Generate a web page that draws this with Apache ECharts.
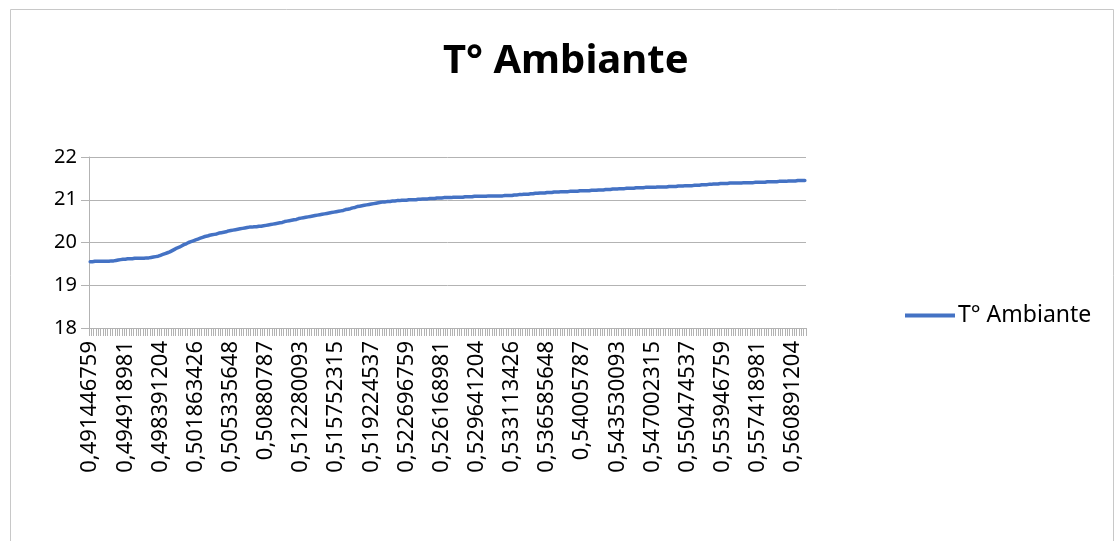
<!DOCTYPE html>
<html>
<head>
<meta charset="utf-8">
<script src="https://cdn.jsdelivr.net/npm/echarts@6/dist/echarts.min.js"></script>
<style>
  html, body { margin: 0; padding: 0; background: #fff; }
  #main { width: 1115px; height: 541px; }
</style>
</head>
<body>
<div id="main"></div>
<script>
var myChart = echarts.init(document.getElementById('main'));

var chartTitle = 'T° Ambiante';
var seriesName = 'T° Ambiante';

// time stamps: fraction of a day, one reading every 20 s from 11:47:41
var startSeconds = 42461;
var stepSeconds = 20;
var pointCount = 306;

var yTicks = [18, 19, 20, 21, 22];

// one row = 15 readings (5 minutes)
var tempValues = [
    19.55,19.55,19.56,19.56,19.56,19.56,19.56,19.56,19.56,19.57,19.57,19.58,19.59,19.60,19.61,
    19.61,19.62,19.62,19.62,19.63,19.63,19.63,19.63,19.63,19.64,19.64,19.65,19.66,19.67,19.68,
    19.70,19.72,19.74,19.76,19.78,19.81,19.84,19.87,19.89,19.92,19.95,19.97,20.00,20.02,20.04,
    20.06,20.08,20.10,20.12,20.14,20.15,20.17,20.18,20.19,20.20,20.22,20.23,20.24,20.25,20.27,
    20.28,20.29,20.30,20.31,20.32,20.33,20.34,20.35,20.36,20.36,20.37,20.37,20.38,20.38,20.39,
    20.40,20.41,20.42,20.43,20.44,20.45,20.46,20.47,20.49,20.50,20.51,20.52,20.53,20.54,20.56,
    20.57,20.58,20.59,20.60,20.61,20.62,20.63,20.64,20.65,20.66,20.67,20.68,20.69,20.70,20.71,
    20.72,20.73,20.74,20.75,20.77,20.78,20.79,20.81,20.82,20.84,20.85,20.86,20.87,20.88,20.89,
    20.90,20.91,20.92,20.93,20.94,20.95,20.95,20.96,20.96,20.97,20.97,20.98,20.98,20.99,20.99,
    20.99,21.00,21.00,21.00,21.00,21.01,21.01,21.02,21.02,21.02,21.03,21.03,21.03,21.04,21.04,
    21.04,21.05,21.05,21.05,21.05,21.06,21.06,21.06,21.06,21.06,21.07,21.07,21.07,21.07,21.08,
    21.08,21.08,21.08,21.08,21.08,21.09,21.09,21.09,21.09,21.09,21.09,21.09,21.10,21.10,21.10,
    21.10,21.11,21.11,21.12,21.12,21.13,21.13,21.13,21.14,21.14,21.15,21.15,21.16,21.16,21.16,
    21.17,21.17,21.17,21.18,21.18,21.18,21.19,21.19,21.19,21.19,21.20,21.20,21.20,21.20,21.21,
    21.21,21.21,21.21,21.21,21.22,21.22,21.22,21.23,21.23,21.23,21.24,21.24,21.24,21.25,21.25,
    21.25,21.26,21.26,21.26,21.27,21.27,21.27,21.27,21.28,21.28,21.28,21.28,21.29,21.29,21.29,
    21.29,21.29,21.30,21.30,21.30,21.30,21.30,21.31,21.31,21.31,21.31,21.32,21.32,21.32,21.33,
    21.33,21.33,21.33,21.34,21.34,21.34,21.35,21.35,21.35,21.36,21.36,21.37,21.37,21.37,21.38,
    21.38,21.38,21.38,21.39,21.39,21.39,21.39,21.39,21.39,21.40,21.40,21.40,21.40,21.40,21.41,
    21.41,21.41,21.41,21.41,21.42,21.42,21.42,21.42,21.42,21.43,21.43,21.43,21.43,21.44,21.44,
    21.44,21.44,21.45,21.45,21.45,21.45
];

var categories = [];
for (var i = 0; i < pointCount; i++) {
    var v = ((startSeconds + i * stepSeconds) / 86400).toFixed(9);
    v = v.replace(/0+$/, '').replace('.', ',');
    categories.push(v);
}

var fontFam = 'Noto Sans';
var gridColor = '#b3b3b3';

option = {
    animation: false,
    backgroundColor: '#fff',
    textStyle: { fontFamily: fontFam },
    graphic: [{
        type: 'rect',
        shape: { x: 10.5, y: 9.5, width: 1103, height: 600 },
        style: { fill: 'none', stroke: '#c8c8c8', lineWidth: 1 },
        silent: true
    }],
    title: {
        text: chartTitle,
        left: 438,
        top: 37,
        itemGap: 0,
        textStyle: {
            fontFamily: fontFam,
            fontSize: 40,
            fontWeight: 'bold',
            color: '#000'
        }
    },
    legend: {
        left: 905,
        top: 304,
        padding: 0,
        icon: 'rect',
        itemWidth: 50,
        itemHeight: 4,
        itemGap: 6,
        textStyle: { fontFamily: fontFam, fontSize: 23, color: '#000', padding: [0, 0, 0, -2] },
        data: [seriesName]
    },
    grid: {
        left: 89,
        right: 309,
        top: 157,
        bottom: 213,
        containLabel: false
    },
    xAxis: {
        type: 'category',
        data: categories,
        boundaryGap: true,
        axisLine: { lineStyle: { color: gridColor, width: 1 } },
        axisTick: {
            show: true,
            interval: 0,
            length: 8,
            lineStyle: { color: gridColor }
        },
        axisLabel: {
            interval: 14,
            rotate: 90,
            fontSize: 22,
            color: '#000',
            margin: 13,
            fontFamily: fontFam
        },
        splitLine: { show: false }
    },
    yAxis: {
        type: 'value',
        min: yTicks[0],
        max: yTicks[yTicks.length - 1],
        interval: 1,
        axisLine: { show: true, lineStyle: { color: gridColor } },
        axisTick: { show: true, length: 8, lineStyle: { color: gridColor } },
        axisLabel: {
            fontSize: 20,
            color: '#000',
            margin: 12,
            fontFamily: fontFam
        },
        splitLine: { lineStyle: { color: gridColor, width: 1 } }
    },
    series: [{
        name: seriesName,
        type: 'line',
        data: tempValues,
        showSymbol: false,
        symbol: 'none',
        lineStyle: { color: '#4472C4', width: 3.5, cap: 'round', join: 'round' },
        itemStyle: { color: '#4472C4' }
    }]
};

myChart.setOption(option);
</script>
</body>
</html>
